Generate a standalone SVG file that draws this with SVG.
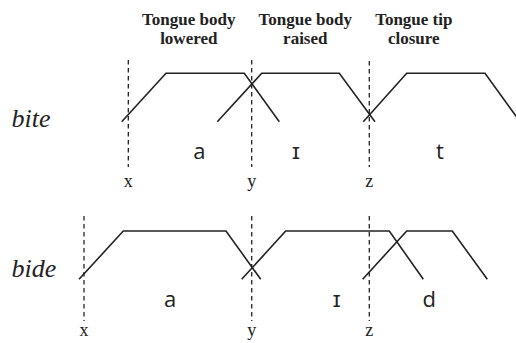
<svg xmlns="http://www.w3.org/2000/svg" width="516" height="343" viewBox="0 0 516 343">
<style>
.hdr{font-family:"Liberation Serif",serif;font-weight:bold;font-size:17px;fill:#222;text-anchor:middle}
.word{font-family:"Liberation Serif",serif;font-style:italic;font-size:26px;fill:#222}
.tick{font-family:"Liberation Serif",serif;font-size:18px;fill:#222;text-anchor:middle}
.seg{font-family:"Open Sans",sans-serif;font-size:22px;fill:#222;text-anchor:middle}
.gest{fill:none;stroke:#222;stroke-width:1.6;stroke-linejoin:miter}
.dash{fill:none;stroke:#222;stroke-width:1.3;stroke-dasharray:4.5 3.5}
</style>
<rect width="516" height="343" fill="#fff"/>
<g id="headers">
<text class="hdr" x="188.8" y="25">Tongue body</text>
<text class="hdr" x="188.8" y="44">lowered</text>
<text class="hdr" x="305.3" y="25">Tongue body</text>
<text class="hdr" x="305.3" y="44">raised</text>
<text class="hdr" x="413.8" y="25">Tongue tip</text>
<text class="hdr" x="413.8" y="44">closure</text>
</g>
<g id="row-bite">
<text class="word" x="11.5" y="126.7">bite</text>
<g id="bite-a"><path class="gest" d="M121.7,121.7 L166,73.3 L244.3,73.3 L279.3,121.7"/><text class="seg" x="199.3" y="159.3">a</text></g>
<g id="bite-i"><path class="gest" d="M217.3,121.7 L261.7,73.3 L339.3,73.3 L375,121.7"/><text class="seg" x="296" y="159.3">ɪ</text></g>
<g id="bite-t"><path class="gest" d="M363.3,121.7 L406.7,73.3 L485,73.3 L520,121.7"/><text class="seg" x="440" y="159.3">t</text></g>
</g>
<g id="row-bide">
<text class="word" x="11.5" y="277.3">bide</text>
<g id="bide-a"><path class="gest" d="M79,279.3 L123.3,231 L226,231 L260.7,279.3"/><text class="seg" x="170" y="307.3">a</text></g>
<g id="bide-i"><path class="gest" d="M241.7,279.3 L285.7,231 L389.3,231 L423.3,279.3"/><text class="seg" x="336.7" y="307.3">ɪ</text></g>
<g id="bide-d"><path class="gest" d="M362.7,279.3 L406.7,231 L452.3,231 L487.3,279.3"/><text class="seg" x="429.3" y="307.3">d</text></g>
</g>
<g id="connectors">
<line class="dash" x1="128.3" y1="60" x2="128.3" y2="167"/>
<line class="dash" x1="251.7" y1="60" x2="251.7" y2="167"/>
<line class="dash" x1="369.3" y1="61" x2="369.3" y2="167"/>
<line class="dash" x1="84" y1="216" x2="84" y2="321"/>
<line class="dash" x1="251.7" y1="216" x2="251.7" y2="321"/>
<line class="dash" x1="369.3" y1="216" x2="369.3" y2="321"/>
</g>
<g id="ticks">
<text class="tick" x="128.3" y="187.3">x</text>
<text class="tick" x="251.7" y="187.3">y</text>
<text class="tick" x="369.3" y="187.3">z</text>
<text class="tick" x="84" y="336">x</text>
<text class="tick" x="251.7" y="336">y</text>
<text class="tick" x="369.3" y="336">z</text>
</g>
</svg>
